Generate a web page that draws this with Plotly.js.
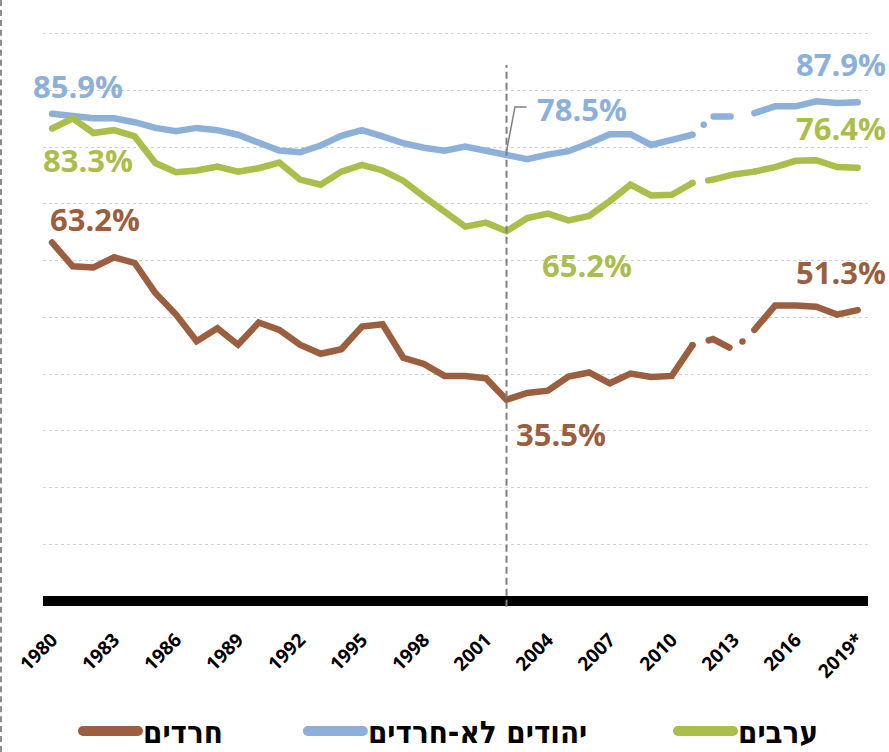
<!DOCTYPE html>
<html><head><meta charset="utf-8">
<script src="https://cdn.plot.ly/plotly-3.0.1.min.js"></script>
<style>
html,body{margin:0;padding:0;background:#fff}
#wrap{position:relative;width:889px;height:752px}
#wrap::before{content:'';position:absolute;left:0;top:0;bottom:0;border-left:2px dashed #8c8c8c;z-index:10}
.js-line{stroke-linecap:round}
.legendlines .js-line{stroke-width:10px !important}
</style></head><body><div id="wrap"><div id="chart"></div></div>
<script>
const years = [1980,1981,1982,1983,1984,1985,1986,1987,1988,1989,1990,1991,1992,1993,1994,1995,1996,1997,1998,1999,2000,2001,2002,2003,2004,2005,2006,2007,2008,2009,2010,2011,2012,2013,2014,2015,2016,2017,2018,2019];
const haredim = [63.2,59.0,58.8,60.6,59.6,54.3,50.5,45.8,48.1,45.2,49.1,47.8,45.2,43.6,44.4,48.4,48.8,42.9,41.8,39.7,39.7,39.3,35.5,36.7,37.1,39.6,40.3,38.4,40.1,39.5,39.7,45.1,46.2,44.3,47.8,52.1,52.1,51.9,50.5,51.3];
const nonHaredi = [85.9,85.5,85.1,85.1,84.4,83.4,82.8,83.4,83.0,82.2,80.8,79.4,79.1,80.3,82.0,83.0,81.9,80.7,79.9,79.4,80.1,79.3,78.5,77.9,78.7,79.3,80.7,82.3,82.3,80.4,81.3,82.2,85.4,85.4,86.0,87.2,87.2,88.1,87.8,87.9];
const arabs = [83.3,85.1,82.5,83.0,81.9,77.2,75.6,75.9,76.6,75.7,76.3,77.3,74.3,73.4,75.7,76.9,75.9,74.1,71.3,68.7,66.0,66.7,65.2,67.5,68.3,67.1,67.9,70.5,73.4,71.5,71.6,73.7,74.3,75.2,75.7,76.5,77.6,77.7,76.5,76.4];
const tickYears = [1980,1983,1986,1989,1992,1995,1998,2001,2004,2007,2010,2013,2016,2019];
const tickLabels = ['1980','1983','1986','1989','1992','1995','1998','2001','2004','2007','2010','2013','2016','2019*'];
const seriesNames = ['חרדים','יהודים לא-חרדים','ערבים'];
const markerYear = 2002;
const breakStart = 2011, breakEnd = 2014;

const colors = ['#9B5F3F','#8DB0DA','#ABBD4B'];
const series = [haredim, nonHaredi, arabs];
const dashes = ['0px,17px,23px,17px,0px,60px','0px,15px,0px,13px,17px,60px','0px,16px,300px'];
const legends = ['legend','legend2','legend3'];
const W = 6.5;

const i1 = years.indexOf(breakStart), i2 = years.indexOf(breakEnd);
const traces = [];
series.forEach((s, k) => {
  traces.push({x: years.slice(0, i1+1), y: s.slice(0, i1+1), type:'scatter', mode:'lines',
    name: seriesNames[k], legend: legends[k], line:{color: colors[k], width: W}, hoverinfo:'skip'});
  traces.push({x: years.slice(i1, i2+1), y: s.slice(i1, i2+1), type:'scatter', mode:'lines',
    showlegend:false, line:{color: colors[k], width: W, dash: dashes[k]}, hoverinfo:'skip'});
  traces.push({x: years.slice(i2), y: s.slice(i2), type:'scatter', mode:'lines',
    showlegend:false, line:{color: colors[k], width: W}, hoverinfo:'skip'});
});

const last = years.length - 1;
const iMin = years.indexOf(markerYear);
const pct = v => v.toFixed(1) + '%';
const lblFont = (c) => ({family:'Open Sans, sans-serif', size:31, color:c, weight:700});
const annotations = [
  {x:1981.26, y:90.7, text:pct(nonHaredi[0]), c:1},
  {x:1981.74, y:77.8, text:pct(arabs[0]), c:2},
  {x:1982.08, y:67.3, text:pct(haredim[0]), c:0},
  {x:2005.65, y:86.8, text:pct(nonHaredi[iMin]), c:1},
  {x:2005.9, y:59.3, text:pct(arabs[iMin]), c:2},
  {x:2004.64, y:29.5, text:pct(haredim[iMin]), c:0},
  {x:2018.19, y:94.7, text:pct(nonHaredi[last]), c:1},
  {x:2018.19, y:83.4, text:pct(arabs[last]), c:2},
  {x:2018.19, y:58.0, text:pct(haredim[last]), c:0}
].map(a => ({x:a.x, y:a.y, xref:'x', yref:'y', text:a.text, showarrow:false,
  xanchor:'center', yanchor:'middle', font: lblFont(colors[a.c])}));

const legFont = {family:'Liberation Sans Narrow, DejaVu Sans Condensed, sans-serif', size:31, color:'#000', weight:700};
const legBase = {orientation:'h', yanchor:'middle', xanchor:'left', y:-0.214, bgcolor:'rgba(0,0,0,0)', font: legFont, itemwidth:55};

const layout = {
  width:889, height:752,
  margin:{l:43, r:21, t:32, b:144, autoexpand:false},
  paper_bgcolor:'#fff', plot_bgcolor:'#fff',
  xaxis:{range:[1979.56, 2019.5], showgrid:false, zeroline:false, showline:false, automargin:false,
    tickmode:'array', tickvals:tickYears, ticktext:tickLabels, tickangle:-45, ticks:'', ticklabelstandoff:16,
    tickfont:{family:'Open Sans, sans-serif', size:19, color:'#000', weight:700}},
  yaxis:{range:[-1.2, 100.3], dtick:10, tick0:0, showticklabels:false, ticks:'', automargin:false,
    showgrid:true, gridcolor:'#d0d0d0', griddash:'dot', gridwidth:1,
    zeroline:true, zerolinecolor:'#000', zerolinewidth:10, showline:false},
  showlegend:true,
  legend: Object.assign({}, legBase, {x:0.0424}),
  legend2: Object.assign({}, legBase, {x:0.315}),
  legend3: Object.assign({}, legBase, {x:0.7636}),
  annotations: annotations,
  shapes:[
    {type:'line', xref:'x', yref:'y', x0:markerYear, x1:markerYear, y0:-1, y1:94.5,
     line:{color:'#7f7f7f', width:2, dash:'7px,4px'}, layer:'above'},
    {type:'path', xref:'x', yref:'y', path:'M2002,79.3 L2002.41,87.1 L2002.97,87.1',
     line:{color:'#7f7f7f', width:1.5}, layer:'above'}
  ]
};
Plotly.newPlot('chart', traces, layout, {displayModeBar:false, staticPlot:true});
</script></body></html>
